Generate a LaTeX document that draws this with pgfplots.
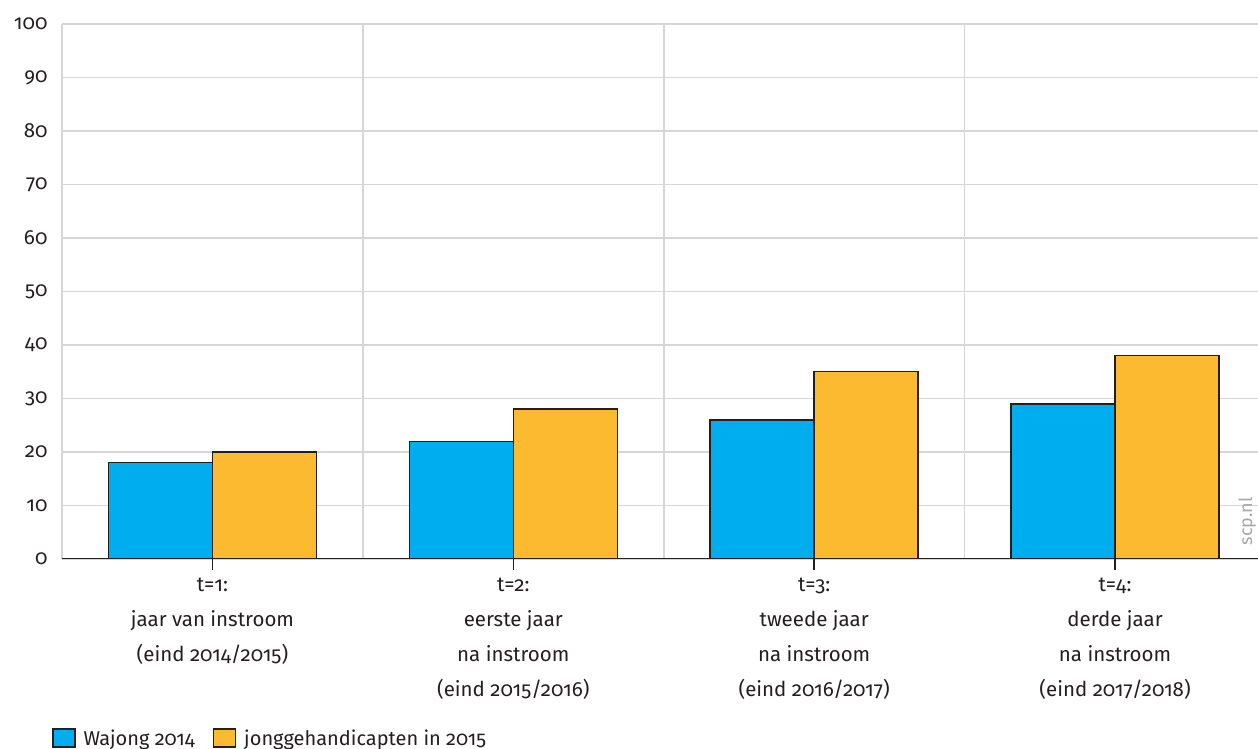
\documentclass[border=0pt]{standalone}
\usepackage{fontspec}
\setmainfont{Fira Sans}[Numbers=OldStyle]
\usepackage{pgfplots}
\pgfplotsset{compat=1.18}
\definecolor{wblue}{RGB}{0,174,239}
\definecolor{wyellow}{RGB}{251,186,48}
\definecolor{gridgrey}{RGB}{214,214,214}
\definecolor{txt}{RGB}{35,31,32}
\begin{document}
\begin{tikzpicture}
\useasboundingbox (0,0) rectangle (1258bp,749bp);
\begin{axis}[
  at={(62bp,190bp)}, anchor=south west,
  scale only axis, width=1196bp, height=535bp,
  xmin=-0.5, xmax=3.475, ymin=0, ymax=100,
  ybar=0pt, bar width=0.3455,
  axis line style={draw=none},
  ytick={0,10,...,100},
  xtick={0,1,2,3},
  minor xtick={-0.5,0.5,1.5,2.5},
  xtick pos=bottom,
  xminorgrids=true, ymajorgrids=true,
  grid style={gridgrey, line width=1.5bp},
  minor grid style={gridgrey, line width=1.5bp},
  major tick length=11bp, minor tick length=0pt,
  tick align=outside,
  ytick style={draw=none},
  xtick style={txt, line width=1.5bp},
  /pgf/number format/assume math mode=true,
  tick label style={font=\fontsize{20.5bp}{35bp}\selectfont, text=txt},
  xticklabel style={align=center, anchor=north, yshift=-5bp},
  xticklabels={{t=1:\\jaar van instroom\\(eind 2014/2015)},
               {t=2:\\eerste jaar\\na instroom\\(eind 2015/2016)},
               {t=3:\\tweede jaar\\na instroom\\(eind 2016/2017)},
               {t=4:\\derde jaar\\na instroom\\(eind 2017/2018)}},
  legend style={at={(-0.011,-0.335)}, anchor=west, legend columns=2,
    draw=none, fill=none, font=\fontsize{20bp}{24bp}\selectfont, text=txt,
    /tikz/every odd column/.append style={column sep=6bp},
    /tikz/every even column/.append style={column sep=16bp}},
  legend image code/.code={\draw[#1, line width=1.5bp] (0bp,-9bp) rectangle (22bp,9bp);},
]
\addplot[fill=wblue, draw=txt, line width=1.5bp] coordinates {(0,18) (1,22) (2,26) (3,29)};
\addplot[fill=wyellow, draw=txt, line width=1.5bp] coordinates {(0,20) (1,28) (2,35) (3,38)};
\legend{Wajong 2014, jonggehandicapten in 2015}
\draw[txt, line width=2bp] (axis cs:-0.5,0) -- (axis cs:3.475,0);
\node[rotate=90, text=gray!70, font=\fontsize{18bp}{20bp}\selectfont] at (rel axis cs:0.991,0.07) {scp.nl};
\end{axis}
\end{tikzpicture}
\end{document}
